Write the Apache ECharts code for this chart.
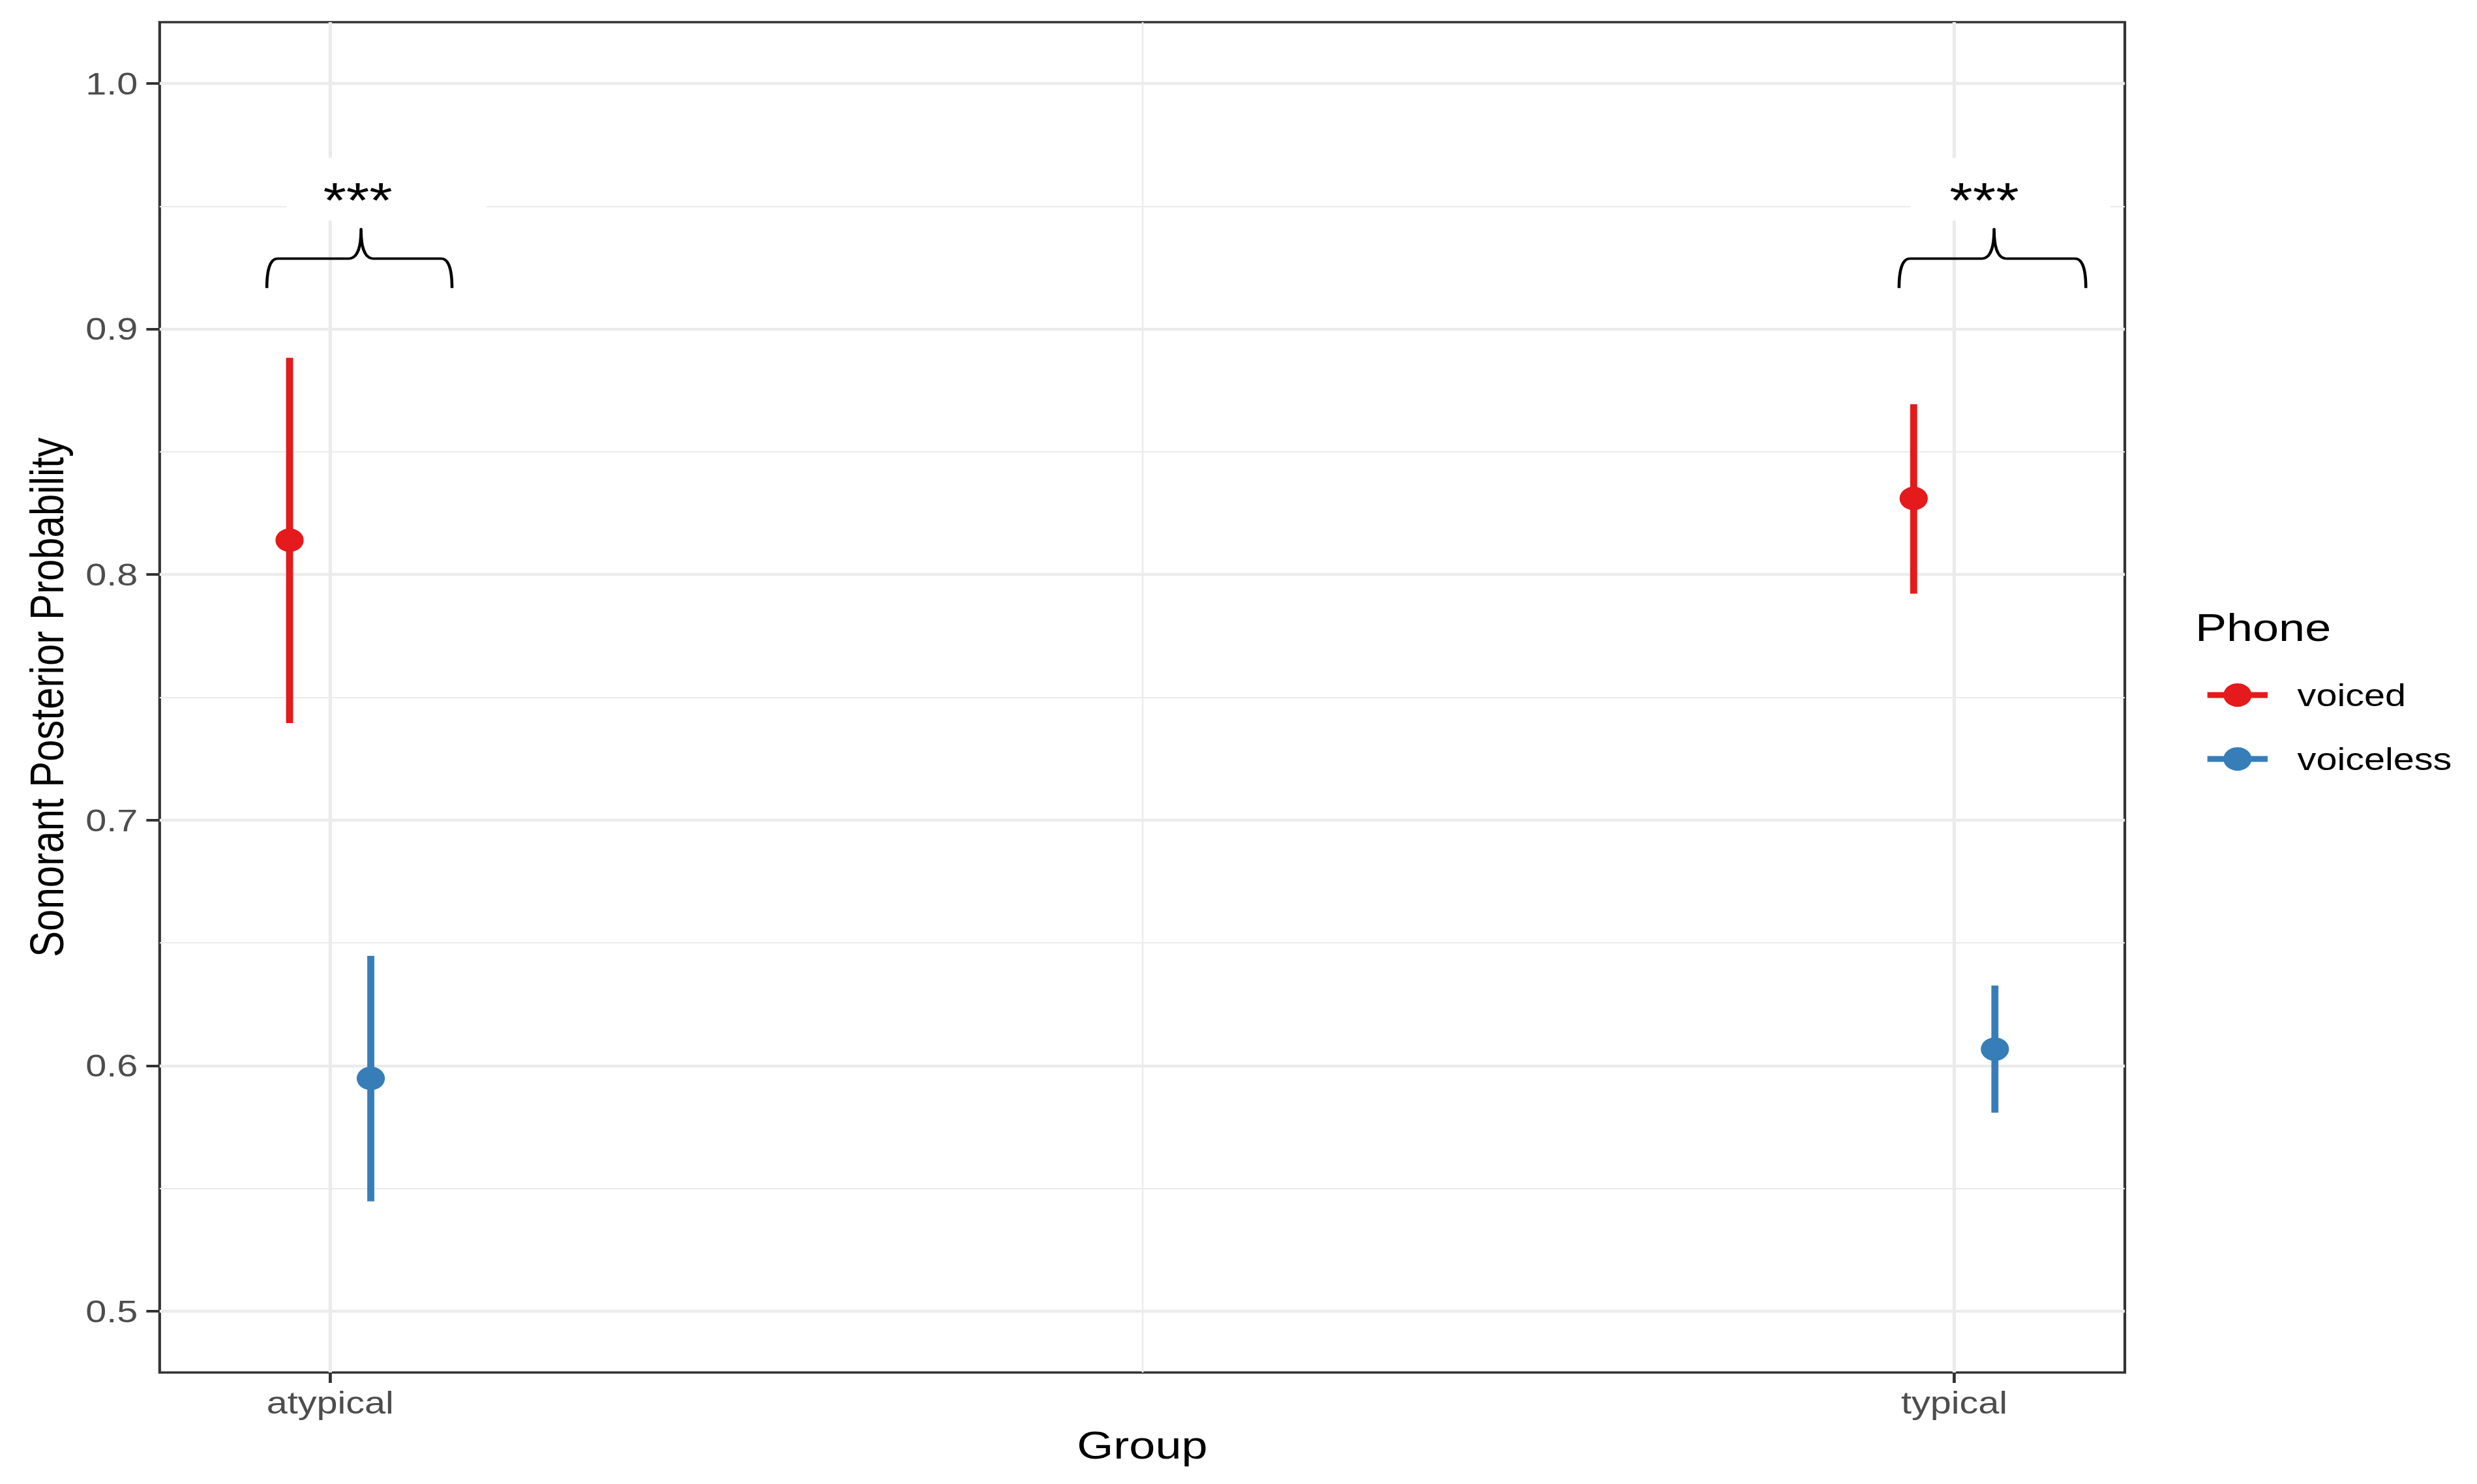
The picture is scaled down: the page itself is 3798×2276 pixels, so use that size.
<!DOCTYPE html>
<html>
<head>
<meta charset="utf-8">
<script src="https://cdn.jsdelivr.net/npm/echarts@6/dist/echarts.min.js"></script>
<style>
html,body{margin:0;padding:0;background:#ffffff;overflow:hidden;width:3798px;height:2276px;}
#chart{width:3165px;height:2276px;transform:scaleX(1.2);transform-origin:0 0;}
</style>
</head>
<body>
<div id="chart"></div>
<script>
// ---------------- data ----------------
const categories = ['atypical', 'typical'];
const phones = ['voiced', 'voiceless'];
const voicedMean = [0.814, 0.831];
const voicedLower = [0.7395, 0.7922];
const voicedUpper = [0.8883, 0.8694];
const voicelessMean = [0.5948, 0.6067];
const voicelessLower = [0.5447, 0.5808];
const voicelessUpper = [0.6447, 0.6326];
const yTicks = [0.5, 0.6, 0.7, 0.8, 0.9, 1.0];
const yMinorTicks = [0.55, 0.65, 0.75, 0.85, 0.95];
const sigLabels = ['***', '***'];
// bracket geometry (data units, x relative to the category position)
const bracketX = [[-0.039, 0.075, 0.019], [-0.034, 0.081, 0.0245]]; // left, right, tip
const bracketY = [0.9167, 0.9287, 0.9407];                           // ends, bar, tip
const sigLabelX = [0.017, 0.0185];
const sigLabelY = 0.9525;
const labelBoxX = [-0.027, 0.096];
const labelBoxY = [0.9442, 0.9697];

// ---------------- style ----------------
const FONT = '"Liberation Sans", Arial, Helvetica, sans-serif';
const DODGE = 0.025;
const COLORS = { voiced: '#E41A1C', voiceless: '#377EB8' };
const GRID_COLOR = '#ebebeb';

const stats = {
  voiced: { mean: voicedMean, lower: voicedLower, upper: voicedUpper, off: -DODGE },
  voiceless: { mean: voicelessMean, lower: voicelessLower, upper: voicelessUpper, off: DODGE }
};
const catX = i => i + 1;

const series = [];

// gridlines
const gridData = [];
yTicks.forEach(v => gridData.push({ yAxis: v, lineStyle: { color: GRID_COLOR, width: 4.4, type: 'solid' } }));
yMinorTicks.forEach(v => gridData.push({ yAxis: v, lineStyle: { color: GRID_COLOR, width: 2.2, type: 'solid' } }));
categories.forEach((c, i) => gridData.push({ xAxis: catX(i), lineStyle: { color: GRID_COLOR, width: 4.4, type: 'solid' } }));
for (let i = 0; i < categories.length - 1; i++) {
  gridData.push({ xAxis: (catX(i) + catX(i + 1)) / 2, lineStyle: { color: GRID_COLOR, width: 2.2, type: 'solid' } });
}
series.push({
  type: 'line', name: 'gridlines', data: [], z: 1, silent: true,
  markLine: { z: 1, silent: true, symbol: ['none', 'none'], label: { show: false }, animation: false, data: gridData }
});

// error bars
phones.forEach(p => {
  const s = stats[p];
  series.push({
    type: 'custom', name: p + ' interval', z: 3, silent: true,
    data: categories.map((c, i) => [catX(i) + s.off, s.lower[i], s.upper[i]]),
    encode: { x: 0, y: [1, 2] },
    renderItem: (params, api) => {
      const a = api.coord([api.value(0), api.value(1)]);
      const b = api.coord([api.value(0), api.value(2)]);
      return { type: 'line', shape: { x1: a[0], y1: a[1], x2: b[0], y2: b[1] },
               style: { stroke: COLORS[p], lineWidth: 9, lineCap: 'butt' } };
    }
  });
});

// points
phones.forEach(p => {
  const s = stats[p];
  series.push({
    type: 'line', name: p, z: 4, silent: true,
    data: categories.map((c, i) => [catX(i) + s.off, s.mean[i]]),
    symbol: 'circle', symbolSize: 36, showSymbol: true,
    color: COLORS[p], itemStyle: { color: COLORS[p] },
    lineStyle: { width: 0 }, emphasis: { disabled: true }
  });
});

// significance brackets
function quad(p0, c, p1, n) {
  const pts = [];
  for (let k = 0; k <= n; k++) {
    const t = k / n, u = 1 - t;
    pts.push([u * u * p0[0] + 2 * u * t * c[0] + t * t * p1[0], u * u * p0[1] + 2 * u * t * c[1] + t * t * p1[1]]);
  }
  return pts;
}
series.push({
  type: 'custom', name: 'significance', z: 5, silent: true,
  data: categories.map((c, i) => [catX(i) + bracketX[i][0], catX(i) + bracketX[i][1], catX(i) + bracketX[i][2],
                                  catX(i) + sigLabelX[i], catX(i) + labelBoxX[0], catX(i) + labelBoxX[1]]),
  encode: { x: [0, 1, 2] },
  renderItem: (params, api) => {
    const xL = api.coord([api.value(0), bracketY[0]])[0];
    const xR = api.coord([api.value(1), bracketY[0]])[0];
    const xT = api.coord([api.value(2), bracketY[0]])[0];
    const yB = api.coord([api.value(0), bracketY[0]])[1];
    const yM = api.coord([api.value(0), bracketY[1]])[1];
    const yT = api.coord([api.value(0), bracketY[2]])[1];
    const r1 = 14, r2 = 16;
    let pts = [];
    pts = pts.concat(quad([xL, yB], [xL, yM], [xL + r1, yM], 16));
    pts = pts.concat(quad([xT - r2, yM], [xT, yM], [xT, yT], 16));
    pts = pts.concat(quad([xT, yT], [xT, yM], [xT + r2, yM], 16));
    pts = pts.concat(quad([xR - r1, yM], [xR, yM], [xR, yB], 16));
    const t = api.coord([api.value(3), sigLabelY]);
    const b0 = api.coord([api.value(4), labelBoxY[1]]);
    const b1 = api.coord([api.value(5), labelBoxY[0]]);
    return {
      type: 'group',
      children: [
        { type: 'rect', shape: { x: b0[0], y: b0[1], width: b1[0] - b0[0], height: b1[1] - b0[1] }, style: { fill: '#ffffff' } },
        { type: 'polyline', shape: { points: pts }, style: { stroke: '#000000', lineWidth: 3.8, fill: null, lineJoin: 'round' } },
        { type: 'text', x: t[0], y: t[1], style: { text: sigLabels[params.dataIndex], align: 'center', verticalAlign: 'middle',
          fontSize: 76, fontFamily: FONT, fill: '#000000' } }
      ]
    };
  }
});

const chart = echarts.init(document.getElementById('chart'), null, { renderer: 'svg' });
chart.setOption({
  backgroundColor: '#ffffff',
  animation: false,
  title: {
    text: 'Phone', left: 2805, top: 932, padding: 0,
    textStyle: { fontSize: 60, fontWeight: 'normal', color: '#000000', fontFamily: FONT }
  },
  legend: {
    data: phones, orient: 'vertical', left: 2816, top: 1042, padding: 0,
    itemWidth: 77, itemHeight: 45, itemGap: 50, selectedMode: false,
    lineStyle: { width: 9 },
    textStyle: { fontSize: 48, color: '#000000', fontFamily: FONT, padding: [0, 0, 0, 33] }
  },
  grid: {
    left: 204, right: 450, top: 34, bottom: 171, containLabel: false,
    show: true, borderColor: '#333333', borderWidth: 3.5, backgroundColor: 'transparent'
  },
  xAxis: {
    type: 'value', min: 0.895, max: 2.105,
    name: 'Group', nameLocation: 'middle', nameGap: 81,
    nameTextStyle: { fontSize: 60, color: '#000000', fontFamily: FONT },
    axisLine: { show: false },
    splitLine: { show: false },
    axisTick: { show: true, length: 16, customValues: categories.map((c, i) => catX(i)), lineStyle: { color: '#333333', width: 4 } },
    axisLabel: { customValues: categories.map((c, i) => catX(i)), margin: 22, fontSize: 48, color: '#4d4d4d', fontFamily: FONT,
      formatter: v => categories[Math.round(v) - 1] }
  },
  yAxis: {
    type: 'value', min: 0.475, max: 1.025,
    name: 'Sonorant Posterior Probability', nameLocation: 'middle', nameGap: 114,
    nameTextStyle: { fontSize: 60, color: '#000000', fontFamily: FONT },
    axisLine: { show: false },
    splitLine: { show: false },
    axisTick: { show: true, length: 17, customValues: yTicks, lineStyle: { color: '#333333', width: 4 } },
    axisLabel: { customValues: yTicks, margin: 28, fontSize: 48, color: '#4d4d4d', fontFamily: FONT,
      formatter: v => v.toFixed(1) }
  },
  series: series
});
</script>
</body>
</html>
